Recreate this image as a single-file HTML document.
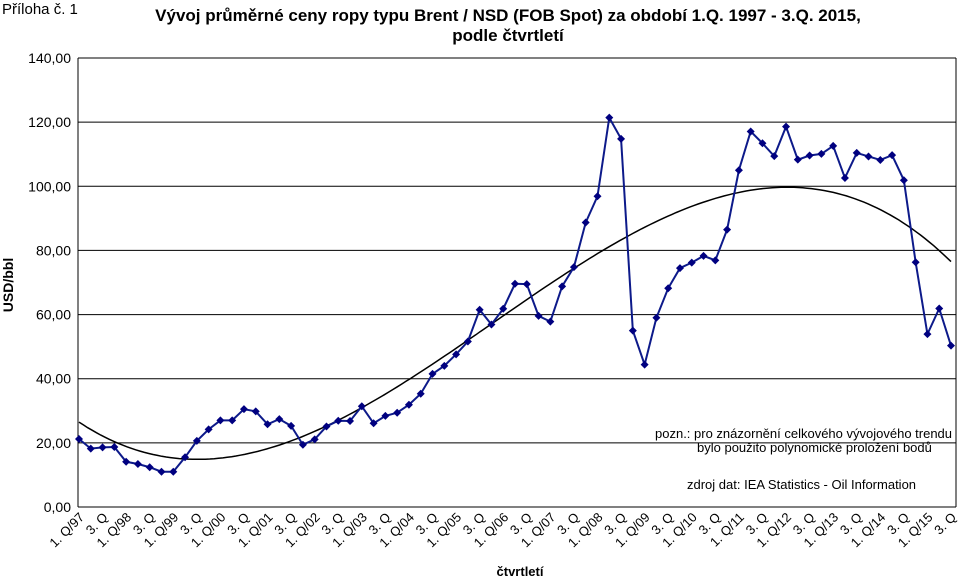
<!DOCTYPE html>
<html><head><meta charset="utf-8"><style>
body{margin:0;background:#fff;font-family:"Liberation Sans",sans-serif;}
svg text{font-family:"Liberation Sans",sans-serif;}
</style></head><body>
<svg id="c" width="960" height="579" xmlns="http://www.w3.org/2000/svg">
<text x="2" y="14" font-size="15">Příloha č. 1</text>
<text x="508" y="21" font-size="17" font-weight="bold" text-anchor="middle">Vývoj průměrné ceny ropy typu Brent / NSD (FOB Spot) za období  1.Q. 1997  - 3.Q.  2015,</text>
<text x="508" y="41" font-size="17" font-weight="bold" text-anchor="middle">podle čtvrtletí</text>
<text transform="translate(13,285) rotate(-90)" font-size="14" font-weight="bold" text-anchor="middle">USD/bbl</text>
<text x="520" y="576" font-size="13" font-weight="bold" text-anchor="middle">čtvrtletí</text>
<text x="655" y="438" font-size="13">pozn.:  pro znázornění celkového vývojového trendu</text>
<text x="697" y="452" font-size="13">bylo použito polynomické proložení bodů</text>
<text x="687" y="489" font-size="13">zdroj dat:  IEA Statistics - Oil Information</text>
<g id="grid"></g><g id="trend"></g><g id="series"></g><g id="xl"></g>
</svg>
<script>
const categories=[];
const years=["97","98","99","00","01","02","03","04","05","06","07","08","09","10","11","12","13","14","15"];
const prices=[21.2,18.2,18.6,18.7,14.1,13.4,12.4,11.0,11.0,15.5,20.6,24.2,27.0,27.0,30.5,29.8,25.8,27.4,25.3,19.4,21.1,25.1,26.9,26.8,31.4,26.1,28.4,29.4,31.9,35.3,41.5,44.0,47.6,51.6,61.5,56.9,61.8,69.6,69.5,59.6,57.8,68.8,74.8,88.7,96.9,121.4,114.8,55.0,44.4,59.0,68.2,74.5,76.2,78.3,76.9,86.5,105.0,117.1,113.4,109.4,118.6,108.3,109.6,110.1,112.6,102.6,110.4,109.3,108.2,109.7,101.9,76.3,53.9,61.9,50.3];
const yTicks=[0,20,40,60,80,100,120,140];
const yTickLabels=["0,00","20,00","40,00","60,00","80,00","100,00","120,00","140,00"];
years.forEach(y=>{categories.push("1. Q/"+y,"2. Q","3. Q","4. Q");});
categories.length=prices.length;
const NS="http://www.w3.org/2000/svg";
const L=79,R=951,T=58,B=507,yMax=140;
const xs=i=>L+(R-L)*i/(prices.length-1);
const ys=v=>B-(B-T)*v/yMax;
function mk(t,a,p){const e=document.createElementNS(NS,t);for(const k in a)e.setAttribute(k,a[k]);p.appendChild(e);return e;}
const grid=document.getElementById('grid');
yTicks.forEach((v,i)=>{
 const l=mk('line',{x1:78,x2:956,y1:ys(v),y2:ys(v),stroke:'#000','stroke-width':1},grid);
 
 
 const t=mk('text',{x:71,y:ys(v)+5,'font-size':14,'text-anchor':'end'},grid);
 t.textContent=yTickLabels[i];
 
 
});
const ax=mk('line',{x1:78,x2:78,y1:T,y2:B,stroke:'#000'},grid);


const rb=mk('line',{x1:956,x2:956,y1:T,y2:B,stroke:'#000'},grid);


const n=prices.length,deg=3;
const M=[],V=[];
for(let r=0;r<=deg;r++){M.push(new Array(deg+1).fill(0));V.push(0);}
for(let i=0;i<n;i++){const t=i/(n-1);for(let r=0;r<=deg;r++){V[r]+=prices[i]*Math.pow(t,r);for(let c=0;c<=deg;c++)M[r][c]+=Math.pow(t,r+c);}}
for(let k=0;k<=deg;k++){for(let r=k+1;r<=deg;r++){const f=M[r][k]/M[k][k];for(let c=k;c<=deg;c++)M[r][c]-=f*M[k][c];V[r]-=f*V[k];}}
const co=new Array(deg+1).fill(0);
for(let r=deg;r>=0;r--){let s=V[r];for(let c=r+1;c<=deg;c++)s-=M[r][c]*co[c];co[r]=s/M[r][r];}
let d='';
for(let j=0;j<=200;j++){const i=(n-1)*j/200,t=j/200;let v=0;for(let r=0;r<=deg;r++)v+=co[r]*Math.pow(t,r);d+=(j?'L':'M')+xs(i).toFixed(1)+','+ys(v).toFixed(1);}
const tr=mk('path',{d:d,fill:'none',stroke:'#000','stroke-width':1.5},document.getElementById('trend'));


const sg=document.getElementById('series');
const ln=mk('polyline',{points:prices.map((v,i)=>xs(i)+','+ys(v)).join(' '),fill:'none',stroke:'#0d1a8a','stroke-width':2},sg);


prices.forEach((v,i)=>{
 const x=xs(i),y=ys(v);
 const p=mk('polygon',{points:`${x},${y-4} ${x+4},${y} ${x},${y+4} ${x-4},${y}`,fill:'#000080'},sg);
 
 
});
const xl=document.getElementById('xl');
categories.forEach((c,i)=>{
 if(i%2)return;
 const x=xs(i);
 const t=mk('text',{transform:`translate(${x+6},${B+11}) rotate(-45)`,'font-size':13,'text-anchor':'end'},xl);
 t.textContent=c;
 
 
});
</script>
</body></html>
